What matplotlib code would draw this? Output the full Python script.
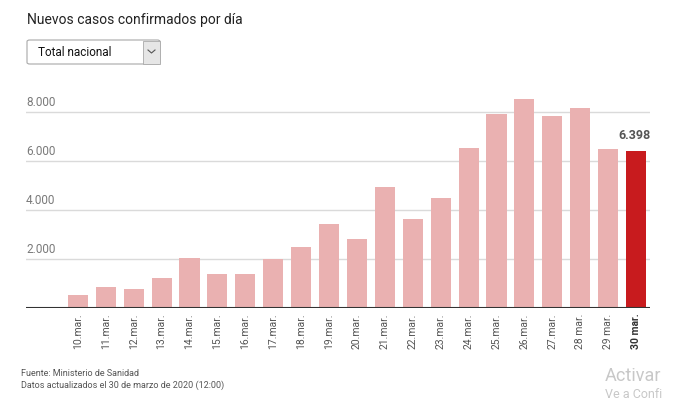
import numpy as np
import matplotlib.pyplot as plt
from matplotlib.patches import FancyBboxPatch, Rectangle

plt.rcParams['font.family'] = ['Roboto', 'DejaVu Sans']

# datos
dias = ['10.mar.', '11.mar.', '12.mar.', '13.mar.', '14.mar.', '15.mar.', '16.mar.',
        '17.mar.', '18.mar.', '19.mar.', '20.mar.', '21.mar.', '22.mar.', '23.mar.',
        '24.mar.', '25.mar.', '26.mar.', '27.mar.', '28 mar.', '29 mar.', '30 mar.']
casos = [540, 860, 780, 1230, 2050, 1400, 1400, 1980, 2500, 3420, 2800, 4930,
         3620, 4500, 6550, 7900, 8550, 7850, 8150, 6510, 6398]
yticks = [2000, 4000, 6000, 8000]
ytick_labels = ['2.000', '4.000', '6.000', '8.000']

W, H = 673, 400
fig = plt.figure(figsize=(W / 100, H / 100), dpi=100)

# ejes: x 26..650 px, y base 308 px, top 87.5 px
ax = fig.add_axes([26 / W, (H - 308) / H, (650 - 26) / W, (308 - 87.5) / H])
x = np.arange(len(casos))
colores = ['#EAB1B1'] * (len(casos) - 1) + ['#C81B1E']
ax.bar(x, casos, width=0.72, color=colores, zorder=2)
ax.set_xlim(-1.86, 20.5)
ax.set_ylim(0, 9000)

for v, lab in zip(yticks, ytick_labels):
    ax.axhline(v, color='#dadada', linewidth=1, zorder=1)
    ax.annotate(lab, xy=(0, v), xycoords=('axes fraction', 'data'),
                xytext=(0, 2), textcoords='offset points',
                ha='left', va='bottom', fontsize=8.5, color='#7a7a7a')
ax.axhline(0, color='#333333', linewidth=1.5, zorder=3)

for s in ax.spines.values():
    s.set_visible(False)
ax.set_yticks([])
ax.set_xticks(x)
ax.set_xticklabels(dias, rotation=90, fontsize=7.5, color='#555555', va='top')
ax.tick_params(axis='x', length=0, pad=4)
ax.get_xticklabels()[-1].set_fontweight('bold')
ax.get_xticklabels()[-1].set_color('#333333')

ax.annotate('6.398', xy=(x[-1], casos[-1]), xytext=(-1, 7), textcoords='offset points',
            ha='center', va='bottom', fontsize=9, fontweight='bold', color='#555555')

# titulo y selector
fig.text(27 / W, 1 - 20 / H, 'Nuevos casos confirmados por día', fontsize=10,
         color='#222222', va='center', ha='left')
box = FancyBboxPatch((27 / W, 1 - 64 / H), 133 / W, 24 / H,
                     boxstyle='round,pad=0,rounding_size=0.004',
                     transform=fig.transFigure, facecolor='white',
                     edgecolor='#a8a8a8', linewidth=0.8)
fig.patches.append(box)
fig.patches.append(Rectangle((143 / W, 1 - 63.5 / H), 16.5 / W, 23 / H,
                             transform=fig.transFigure, facecolor='#e6e6e6',
                             edgecolor='#a8a8a8', linewidth=0.6))
fig.lines.append(plt.Line2D([148 / W, 151.5 / W, 155 / W],
                            [1 - 50 / H, 1 - 53 / H, 1 - 50 / H],
                            transform=fig.transFigure, color='#555555', linewidth=0.8))
fig.text(38 / W, 1 - 52 / H, 'Total nacional', fontsize=8.5, color='#111111',
         va='center', ha='left')

# pie
fig.text(21 / W, 1 - 373 / H, 'Fuente: Ministerio de Sanidad', fontsize=6.5,
         color='#555555', va='center', ha='left')
fig.text(21 / W, 1 - 385 / H, 'Datos actualizados el 30 de marzo de 2020 (12:00)',
         fontsize=6.5, color='#555555', va='center', ha='left')
fig.text(605 / W, 1 - 376 / H, 'Activar', fontsize=13, color='#c8c8c8',
         va='center', ha='left')
fig.text(605 / W, 1 - 395 / H, 'Ve a Confi', fontsize=9, color='#c8c8c8',
         va='center', ha='left')

fig.savefig('out.png', dpi=100)
